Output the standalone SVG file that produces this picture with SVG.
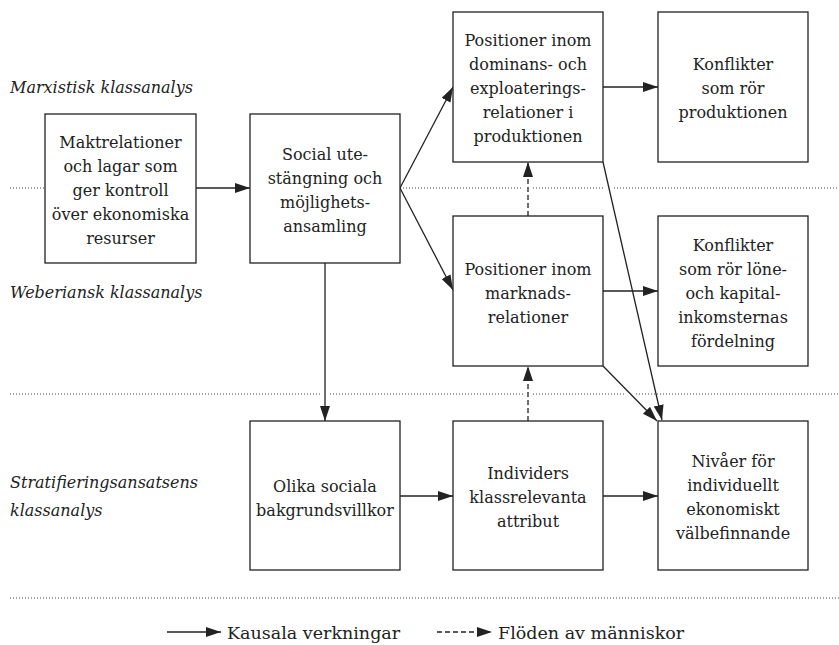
<svg xmlns="http://www.w3.org/2000/svg" width="839" height="645" viewBox="0 0 839 645">
<style>
.bg{fill:#fff}
.box{fill:#fff;stroke:#222;stroke-width:1.3}
text{font-family:"DejaVu Serif","Liberation Serif",serif;fill:#222}
.t{font-size:16px;text-anchor:middle}
.lab{font-size:16px;font-style:italic}
.leg{font-size:17.5px}
.dot{fill:none;stroke:#444;stroke-width:1;stroke-dasharray:1 2}
.c{fill:none;stroke:#222;stroke-width:1.3;marker-end:url(#ah)}
.d{fill:none;stroke:#222;stroke-width:1.3;stroke-dasharray:5 3;marker-end:url(#ah)}
</style>
<defs>
<marker id="ah" markerUnits="userSpaceOnUse" markerWidth="16" markerHeight="11" refX="15" refY="5" orient="auto">
<path d="M0,0 L15,5 L0,10 z" fill="#222"/>
</marker>
</defs>
<rect class="bg" x="0" y="0" width="839" height="645"/>
<g id="bands">
<path class="dot" d="M10 188 H45 M400 188 H523 M533 188 H605 M614 188 H839"/>
<path class="dot" d="M10 394 H320 M330 394 H523 M533 394 H626 M636 394 H839"/>
<path class="dot" d="M10 598 H839"/>
<text class="lab" x="10" y="93">Marxistisk klassanalys</text>
<text class="lab" x="10" y="298">Weberiansk klassanalys</text>
<text class="lab" x="10" y="488">Stratifieringsansatsens</text>
<text class="lab" x="10" y="516">klassanalys</text>
</g>
<g id="connectors">
<line class="c" x1="196" y1="188" x2="250" y2="188"/>
<line class="c" x1="400" y1="188" x2="453" y2="87"/>
<line class="c" x1="400" y1="188" x2="453" y2="290"/>
<line class="c" x1="603" y1="87" x2="658" y2="87"/>
<line class="c" x1="603" y1="291" x2="658" y2="291"/>
<line class="c" x1="603" y1="162" x2="662" y2="420"/>
<line class="c" x1="603" y1="366" x2="657" y2="421"/>
<line class="c" x1="325" y1="263" x2="325" y2="421"/>
<line class="c" x1="400" y1="496" x2="453" y2="496"/>
<line class="c" x1="603" y1="496" x2="658" y2="496"/>
<line class="d" x1="528" y1="421" x2="528" y2="366"/>
<line class="d" x1="528" y1="216" x2="528" y2="162"/>
</g>
<g id="nA">
<rect class="box" x="45" y="114" width="151" height="149"/>
<text class="t" x="120.5" y="148">Maktrelationer</text>
<text class="t" x="120.5" y="172">och lagar som</text>
<text class="t" x="120.5" y="196">ger kontroll</text>
<text class="t" x="120.5" y="220">över ekonomiska</text>
<text class="t" x="120.5" y="244">resurser</text>
</g>
<g id="nB">
<rect class="box" x="250" y="114" width="150" height="149"/>
<text class="t" x="325" y="160">Social ute-</text>
<text class="t" x="325" y="184">stängning och</text>
<text class="t" x="325" y="208">möjlighets-</text>
<text class="t" x="325" y="232">ansamling</text>
</g>
<g id="nC">
<rect class="box" x="453" y="12" width="150" height="150"/>
<text class="t" x="528" y="46">Positioner inom</text>
<text class="t" x="528" y="70">dominans- och</text>
<text class="t" x="528" y="94">exploaterings-</text>
<text class="t" x="528" y="118">relationer i</text>
<text class="t" x="528" y="142">produktionen</text>
</g>
<g id="nD">
<rect class="box" x="658" y="12" width="150" height="150"/>
<text class="t" x="733" y="70">Konflikter</text>
<text class="t" x="733" y="94">som rör</text>
<text class="t" x="733" y="118">produktionen</text>
</g>
<g id="nE">
<rect class="box" x="453" y="216" width="150" height="150"/>
<text class="t" x="528" y="275">Positioner inom</text>
<text class="t" x="528" y="299">marknads-</text>
<text class="t" x="528" y="323">relationer</text>
</g>
<g id="nF">
<rect class="box" x="658" y="216" width="150" height="150"/>
<text class="t" x="733" y="251">Konflikter</text>
<text class="t" x="733" y="275">som rör löne-</text>
<text class="t" x="733" y="299">och kapital-</text>
<text class="t" x="733" y="323">inkomsternas</text>
<text class="t" x="733" y="347">fördelning</text>
</g>
<g id="nG">
<rect class="box" x="250" y="421" width="150" height="149"/>
<text class="t" x="325" y="491.5">Olika sociala</text>
<text class="t" x="325" y="515.5">bakgrundsvillkor</text>
</g>
<g id="nH">
<rect class="box" x="453" y="421" width="150" height="149"/>
<text class="t" x="528" y="479">Individers</text>
<text class="t" x="528" y="503">klassrelevanta</text>
<text class="t" x="528" y="527">attribut</text>
</g>
<g id="nI">
<rect class="box" x="658" y="421" width="150" height="149"/>
<text class="t" x="733" y="467">Nivåer för</text>
<text class="t" x="733" y="491">individuellt</text>
<text class="t" x="733" y="515">ekonomiskt</text>
<text class="t" x="733" y="539">välbefinnande</text>
</g>
<g id="legend">
<line class="c" x1="167" y1="632" x2="221" y2="632"/>
<text class="leg" x="227" y="639">Kausala verkningar</text>
<line class="d" x1="437" y1="632" x2="492" y2="632"/>
<text class="leg" x="498" y="639">Flöden av människor</text>
</g>
</svg>
